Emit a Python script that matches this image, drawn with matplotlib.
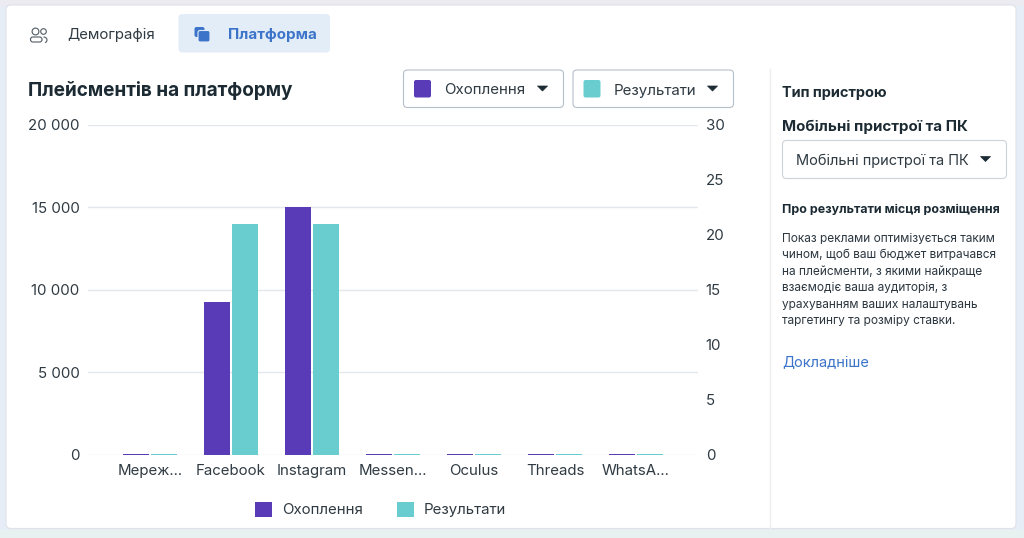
import matplotlib
matplotlib.use("Agg")
import matplotlib.pyplot as plt
import numpy as np
from matplotlib.patches import FancyBboxPatch, Rectangle, Polygon, Circle, Arc

plt.rcParams['font.family'] = ['Inter', 'DejaVu Sans']

categories = ["Мереж...", "Facebook", "Instagram", "Messen...", "Oculus", "Threads", "WhatsA..."]
reach = [50, 9250, 15050, 50, 50, 50, 50]
results = [0.08, 21, 21, 0.08, 0.08, 0.08, 0.08]
left_ticks = [0, 5000, 10000, 15000, 20000]
left_labels = ["0", "5 000", "10 000", "15 000", "20 000"]
right_ticks = [0, 5, 10, 15, 20, 25, 30]
series_names = ["Охоплення", "Результати"]

PURPLE = "#5a3bb7"
TEAL = "#69cdcf"
INK = "#1c2b33"
TXT = "#344049"
BLUE = "#3b74c9"
W, H = 1024, 538
PX = 72 / 100  # points per pixel

fig = plt.figure(figsize=(W / 100, H / 100), dpi=100, facecolor="#e6edf7")

# UI layer in pixel coordinates
ui = fig.add_axes([0, 0, 1, 1], zorder=0)
ui.set_xlim(0, W)
ui.set_ylim(H, 0)
ui.axis("off")

def box(x, y, w, h, fc, ec="none", lw=0, r=4, z=1):
    ui.add_patch(FancyBboxPatch((x + r, y + r), w - 2 * r, h - 2 * r,
                                boxstyle=f"round,pad={r},rounding_size={r}",
                                fc=fc, ec=ec, lw=lw, zorder=z))

def text(x, y, s, size, color=TXT, weight="normal", ha="left"):
    ui.text(x, y, s, fontsize=size * PX, color=color, fontweight=weight,
            ha=ha, va="center", zorder=5)

def caret(cx, cy, color=INK):
    ui.add_patch(Polygon([[cx - 5, cy - 2.5], [cx + 5, cy - 2.5], [cx, cy + 2.5]],
                         closed=True, fc=color, ec=color, lw=0.5, joinstyle="round", zorder=5))

# page background
ui.add_patch(Rectangle((0, 0), W, 6, fc="#ebebf1", ec="none", zorder=0))
ui.add_patch(Rectangle((0, 530), W, 8, fc="#e7f1ef", ec="none", zorder=0))
box(6, 5, 1010, 523.5, "white", ec="#dfe2e6", lw=0.8, r=5, z=1)
ui.plot([769.5, 769.5], [69, 528], color="#edeff2", lw=1.0, zorder=2)

# tabs
cu = "#4f5a63"
ui.add_patch(Circle((35.5, 31.5), 3.4, fc="none", ec=cu, lw=0.8, zorder=5))
ui.add_patch(Circle((43.5, 31.5), 2.8, fc="none", ec=cu, lw=0.8, zorder=5))
box(30.5, 37, 11.5, 5, "white", ec=cu, lw=0.8, r=2.4, z=5)
ui.add_patch(Arc((43.5, 40), 7, 6, theta1=270, theta2=60, ec=cu, lw=0.8, zorder=4))
text(67.5, 35, "Демографія", 14.9, color="#2f3a42")
box(178.5, 14, 151.5, 38.5, "#e3edf8", r=4, z=2)
box(194.5, 27, 10, 10, BLUE, r=2, z=3)
box(198, 30.5, 12, 11.5, BLUE, ec="#e3edf8", lw=0.8, r=2, z=4)
text(228, 35, "Платформа", 15.1, color=BLUE, weight="bold")

# title and series selectors
text(28.5, 90.5, "Плейсментів на платформу", 19, color=INK, weight="bold")
for x, w, c, name in [(403.5, 160, PURPLE, series_names[0]), (573, 160.5, TEAL, series_names[1])]:
    box(x, 70, w, 37.5, "white", ec="#b5bfc9", lw=0.8, r=4, z=2)
    box(x + 10.5, 80, 17, 17.5, c, r=2, z=3)
    text(x + 40.5, 90.5, name, 15.1, color="#2f3a42")
    caret(x + w - 21, 88.5)

# side panel
text(782.5, 93, "Тип пристрою", 14.5, color=INK, weight="bold")
text(782.5, 127, "Мобільні пристрої та ПК", 15.1, color=INK, weight="bold")
box(782.5, 140.5, 224, 38, "white", ec="#ccd3da", lw=0.8, r=4, z=2)
text(795.5, 161, "Мобільні пристрої та ПК", 14.6, color="#2f3a42")
caret(985.5, 159)
text(782.5, 210, "Про результати місця розміщення", 12.45, color=INK, weight="bold")
body = ["Показ реклами оптимізується таким",
        "чином, щоб ваш бюджет витрачався",
        "на плейсменти, з якими найкраще",
        "взаємодіє ваша аудиторія, з",
        "урахуванням ваших налаштувань",
        "таргетингу та розміру ставки."]
for i, line in enumerate(body):
    text(782.5, 239 + i * 16.4, line, 11.9, color="#2c3740")
text(782.5, 362.5, "Докладніше", 14.6, color=BLUE)

# chart
ax_l, ax_r, ax_t, ax_b = 88, 698, 125, 454.5
ax = fig.add_axes([ax_l / W, 1 - ax_b / H, (ax_r - ax_l) / W, (ax_b - ax_t) / H], zorder=2)
ax.patch.set_alpha(0)
ax2 = ax.twinx()
ax2.patch.set_alpha(0)
x = np.arange(len(categories))
bar_w = 0.32
offset = 0.178
ax.set_axisbelow(True)
ax.yaxis.grid(True, color="#e4e7eb", lw=1.0)
ax.xaxis.grid(False)
b1 = ax.bar(x - offset, reach, bar_w, color=PURPLE, zorder=3, label=series_names[0])
b2 = ax2.bar(x + offset, results, bar_w, color=TEAL, zorder=3, label=series_names[1])
ax.set_xlim(-0.765, 6.765)
ax.set_ylim(0, 20000)
ax2.set_ylim(0, 30)
ax.set_xticks(x, categories)
ax.set_yticks(left_ticks, left_labels)
ax2.set_yticks(right_ticks, [str(t) for t in right_ticks])
for a in (ax, ax2):
    for s in a.spines.values():
        s.set_visible(False)
    a.tick_params(axis="both", length=0, labelsize=15 * PX, labelcolor="#2f3a42")
ax.tick_params(axis="y", pad=6)
ax2.tick_params(axis="y", pad=5.5)
ax.tick_params(axis="x", pad=6.5)

fig.legend([b1, b2], series_names, loc="center", bbox_to_anchor=(380.5 / W, 1 - 509.5 / H),
           ncol=2, frameon=False, fontsize=15 * PX, labelcolor="#2f3a42",
           handlelength=1.15, handleheight=1.15, handletextpad=0.62, columnspacing=2.3,
           borderpad=0, borderaxespad=0)

fig.savefig("out.png", dpi=100, facecolor=fig.get_facecolor())
